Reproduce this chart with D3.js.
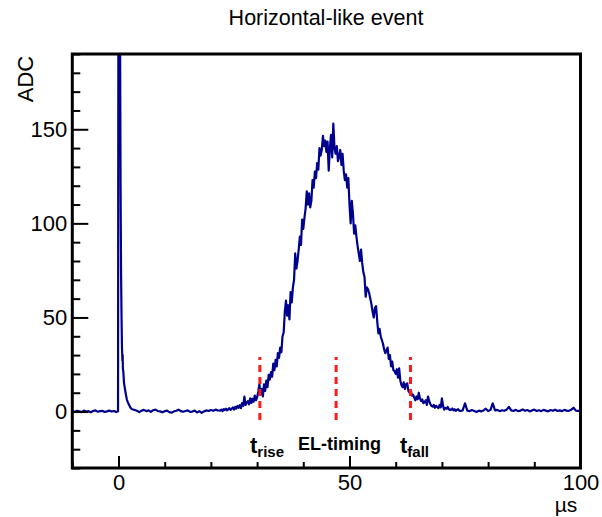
<!DOCTYPE html>
<html>
<head>
<meta charset="utf-8">
<script src="https://cdn.jsdelivr.net/npm/d3@7"></script>
<style>
  body { margin: 0; background: #fff; }
  svg { font-family: "Liberation Sans", Arial, sans-serif; }
</style>
</head>
<body>
<svg width="602" height="517"></svg>
<script>
'use strict';

// waveform samples (µs, ADC)
const preTriggerStart = -10, preTriggerStep = 0.5;
const preTriggerAdc = [0.3, -0.2, 0.4, 0.1, -0.3, 0.5, 0.0, 0.2, -0.4, 0.3,
  0.6, -0.1, 0.2, 0.4, -0.2, 0.1, 0.5, 0.0, 0.3, -0.3];

const promptPeak = [[-0.1, 0.2], [0.05, 420], [0.3, 230], [0.45, 120], [0.55, 75],
  [0.65, 52], [0.75, 34], [0.85, 27], [0.9, 30], [0.95, 23], [1.05, 21], [1.2, 15],
  [1.4, 12], [1.6, 9], [1.8, 6.5], [2.0, 5], [2.3, 3.5], [2.6, 2], [3.0, 1.2]];

const quietStart = 3.5, quietStep = 0.5;
const quietAdc = [0.8, 0.4, -0.3, 0.5, 0.9, 0.2, 0.6, -0.2, 0.7, 1.0, 0.3, 0.1,
  -0.4, 0.2, 0.5, -0.3, -0.6, 0.1, 0.4, 1.0, 0.2, -0.1, 0.3, 0.6, -0.2, 0.0, 0.5,
  -0.5, 0.2, -0.7, 0.1, 0.6, 0.3, 0.8, 0.4, 1.0, 0.6];

const pulseStart = 22, pulseStep = 0.25;
const pulseAdc = [
  0.5, 1.0, 0.2, 1.3,   0.8, 1.5, 0.6, 1.2,   1.8, 0.9, 1.4, 2.2,
  1.1, 2.5, 1.6, 3.0,   2.0, 3.4, 1.8, 4.5,   3.0, 8.0, 3.5, 4.8,
  5.5, 3.8, 7.0, 4.6,   6.8, 5.2, 8.5, 6.0,   7.5, 10.5, 14.5, 9.0,
  12.0, 8.0, 14.5, 11.0,   16.5, 13.0, 19.5, 17.0,   21.0, 18.5, 25.5, 22.0,
  27.5, 24.0, 31.0, 28.5,   34.0, 31.5, 40.0, 42.0,   53.0, 59.0, 51.0, 56.5,
  49.0, 63.5, 58.0, 66.0,   70.0, 84.0, 76.0, 80.0,   86.0, 93.0, 88.5, 102.0,
  97.0, 103.0, 108.0, 117.0,   110.0, 116.0, 108.5, 112.0,   123.0, 119.0, 127.5, 124.0,
  132.0, 128.5, 140.0, 136.0,   139.0, 146.5, 141.0, 144.0,   138.0, 143.5, 128.0, 140.0,
  147.0, 135.0, 153.0, 140.0,   137.0, 141.0, 133.0, 135.5,   139.0, 131.0, 137.0, 128.0,
  123.0, 126.0, 119.0, 124.0,   110.0, 100.0, 112.0, 105.0,   94.5, 99.0, 93.0, 88.0,
  84.0, 80.0, 86.0, 79.0,   74.0, 71.5, 61.0, 66.0,   65.0, 63.0, 60.0, 57.0,
  53.0, 50.0, 55.0, 56.0,   48.0, 41.5, 44.0, 40.0,   38.0, 36.0, 33.0, 31.0,
  32.5, 34.0, 28.0, 30.0,   24.0, 26.5, 22.0, 21.5,   20.0, 22.5, 18.0, 23.0,
  16.5, 14.0, 13.0, 15.5,   12.0, 14.5, 15.0, 11.0,   10.0, 11.5, 8.5, 9.0,
  7.5, 6.0, 8.0, 6.5,   10.0, 7.0, 5.5, 6.5,   4.5, 5.0, 6.0, 3.5,
  8.0, 5.5, 4.0, 3.0,   2.6, 3.5, 2.0, 3.0,   2.5, 1.8, 3.5, 2.2,
  7.0, 3.0, 1.0, 2.0,   1.5, 2.4, 1.2, 0.8,   1.0, 1.6, 0.6, 1.2,
  0.4, 0.9, 1.3, 0.5,   0.3];

const tailStart = 74.5, tailStep = 0.5;
const tailAdc = [0.6, 4.4, 0.5, 0.2, 0.8, 0.3, -0.2, 0.5, 0.1, 0.6, 1.5, 0.3,
  0.8, 4.4, 0.6, 0.9, 0.2, 0.7, 0.4, 1.0, 2.5, 0.6, 0.3, 0.9, 0.2, 0.5, 1.1, 0.4,
  0.8, 0.1, 0.6, 1.0, 0.3, 0.7, 0.2, 0.9, 0.5, 0.1, 0.8, 0.4, 1.0, 0.3, 0.6, 0.2,
  0.9, 0.5, 0.4, 1.0, 2.0, 0.5, 0.3, 0.6];

// timing markers
const markerTimes = [30.6, 47.1, 63.2];
const markerRange = [-4.5, 29];

const xDomain = [-10, 100], yDomain = [-30, 190];
const xMajor = [0, 50, 100];
const yMajor = [0, 50, 100, 150];

const svg = d3.select('svg');
const plotL = 72.3, plotR = 580.5, plotT = 54, plotB = 468;

const x = d3.scaleLinear().domain(xDomain).range([plotL, plotR]);
const y = d3.scaleLinear().domain(yDomain).range([plotB, plotT]);

const toPairs = (start, step, vals) => vals.map((v, i) => [start + i * step, v]);
const trace = [].concat(
  toPairs(preTriggerStart, preTriggerStep, preTriggerAdc),
  promptPeak,
  toPairs(quietStart, quietStep, quietAdc),
  toPairs(pulseStart, pulseStep, pulseAdc),
  toPairs(tailStart, tailStep, tailAdc)
);

svg.append('clipPath').attr('id', 'plot')
  .append('rect')
    .attr('x', plotL).attr('y', plotT)
    .attr('width', plotR - plotL).attr('height', plotB - plotT);

svg.append('path')
  .datum(trace)
  .attr('clip-path', 'url(#plot)')
  .attr('fill', 'none')
  .attr('stroke', '#00008f')
  .attr('stroke-width', 2.2)
  .attr('stroke-linejoin', 'round')
  .attr('d', d3.line().x(d => x(d[0])).y(d => y(d[1])));

// axes, ticks pointing inward
const xMinor = d3.range(-10, 101, 10).filter(v => !xMajor.includes(v));
const yMinor = d3.range(-30, 191, 10).filter(v => !yMajor.includes(v));

svg.append('g').attr('transform', `translate(0,${plotB})`)
  .call(d3.axisBottom(x).tickValues(xMajor).tickSize(-12).tickPadding(6).tickFormat(d3.format('d')));
svg.append('g').attr('transform', `translate(0,${plotB})`)
  .call(d3.axisBottom(x).tickValues(xMinor).tickSize(-6).tickFormat(''));

svg.append('g').attr('transform', `translate(${plotL},0)`)
  .call(d3.axisLeft(y).tickValues(yMajor).tickSize(-16).tickPadding(5).tickFormat(d3.format('d')));
svg.append('g').attr('transform', `translate(${plotL},0)`)
  .call(d3.axisLeft(y).tickValues(yMinor).tickSize(-8).tickFormat(''));

svg.selectAll('.domain').remove();
svg.selectAll('.tick line').attr('stroke', '#000').attr('stroke-width', 2);
svg.selectAll('.tick text').attr('font-size', 22).attr('fill', '#000')
  .attr('font-family', '"Liberation Sans", Arial, sans-serif');

svg.append('rect')
  .attr('x', plotL).attr('y', plotT)
  .attr('width', plotR - plotL).attr('height', plotB - plotT)
  .attr('fill', 'none').attr('stroke', '#000').attr('stroke-width', 3);

// markers
svg.selectAll('.marker')
  .data(markerTimes)
  .enter()
  .append('line')
    .attr('class', 'marker')
    .attr('x1', d => x(d)).attr('x2', d => x(d))
    .attr('y1', y(markerRange[0])).attr('y2', y(markerRange[1]))
    .attr('stroke', '#ff1a1a')
    .attr('stroke-width', 3)
    .attr('stroke-dasharray', '7,5');

const lab = svg.append('g').attr('font-weight', 'bold').attr('fill', '#000');
const tr = lab.append('text').attr('x', 250).attr('y', 453).attr('font-size', 22);
tr.append('tspan').text('t');
tr.append('tspan').attr('font-size', 15).attr('dy', 4).text('rise');
lab.append('text').attr('x', 298).attr('y', 450).attr('font-size', 18).text('EL-timing');
const tf = lab.append('text').attr('x', 400).attr('y', 453).attr('font-size', 22);
tf.append('tspan').text('t');
tf.append('tspan').attr('font-size', 15).attr('dy', 4).text('fall');

svg.append('text')
  .attr('x', 326).attr('y', 25)
  .attr('text-anchor', 'middle')
  .attr('font-size', 21.5)
  .text('Horizontal-like event');

svg.append('text')
  .attr('transform', 'translate(33,79) rotate(-90)')
  .attr('text-anchor', 'middle')
  .attr('font-size', 22)
  .text('ADC');

svg.append('text')
  .attr('x', 566).attr('y', 512)
  .attr('text-anchor', 'middle')
  .attr('font-size', 21)
  .text('µs');
</script>
</body>
</html>
